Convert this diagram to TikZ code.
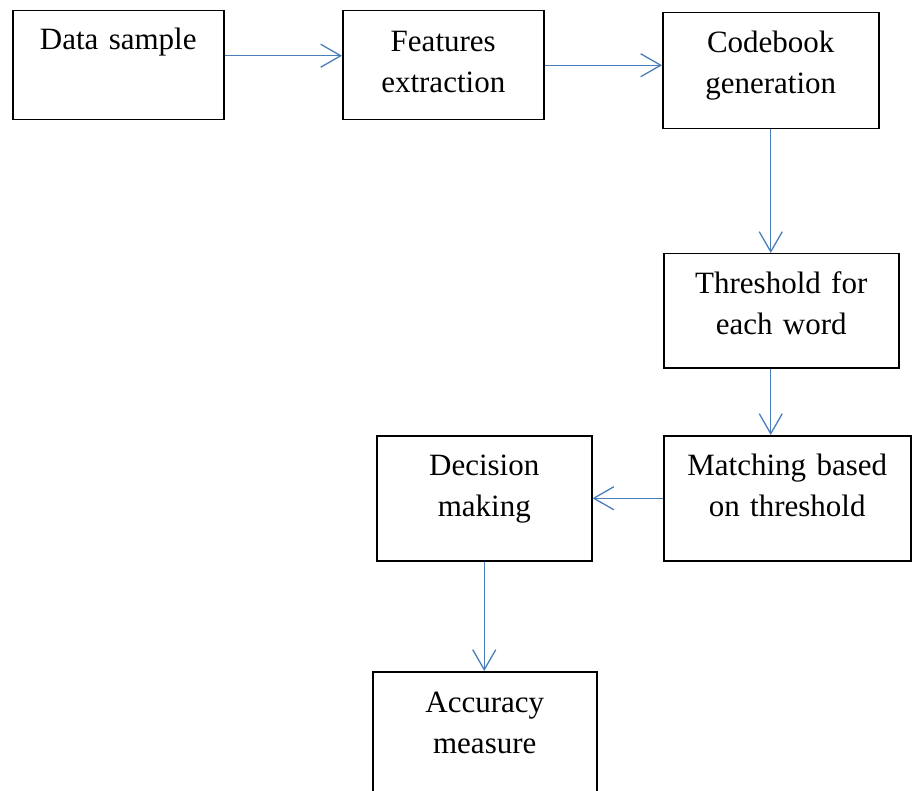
\documentclass[tikz,border=0pt]{standalone}
\usepackage{fontspec}
\setmainfont{Liberation Serif}
\usetikzlibrary{arrows.meta}
\definecolor{officeblue}{RGB}{74,126,187}
\begin{document}
\begin{tikzpicture}[x=1pt,y=-1pt,
  stage/.style={draw, line width=1.5pt, inner sep=0pt, anchor=north west, align=center,
    font=\fontsize{31}{41}\selectfont},
  flow/.style={draw=officeblue, line width=1.3pt, -{Straight Barb[length=20pt,width=23pt]}}]
\useasboundingbox (0,0) rectangle (912,791);
\clip (0,0) rectangle (912,791);

% boxes: text height = first baseline, text depth = rest of the box
\node[stage, text width=211pt, minimum width=211pt, text height=39pt, text depth=70pt] (data) at (12,10) {Data sample};
\node[stage, text width=201pt, minimum width=201pt, text height=41pt, text depth=68pt] (feat) at (342,10) {Features\\extraction};
\node[stage, text width=216pt, minimum width=216pt, text height=40pt, text depth=76pt] (code) at (662,12) {Codebook\\generation};
\node[stage, text width=235pt, minimum width=235pt, text height=40pt, text depth=74pt] (thr) at (663,253) {Threshold for\\each word};
\node[stage, text width=247pt, minimum width=247pt, text height=40pt, text depth=85pt] (match) at (663,435) {Matching based\\on threshold};
\node[stage, text width=215pt, minimum width=215pt, text height=40pt, text depth=85pt] (dec) at (376,435) {Decision\\making};
\node[stage, text width=224pt, minimum width=224pt, text height=41pt, text depth=129pt] (acc) at (372,671) {Accuracy\\measure};

% connectors
\draw[flow] ([yshift=9.5pt]data.east) -- ([yshift=9.5pt]data.east -| feat.west);
\draw[flow] (feat.east) -- (feat.east -| code.west);
\draw[flow] (code.south) -- (code.south |- thr.north);
\draw[flow] (thr.south -| code.south) -- (code.south |- match.north);
\draw[flow] (match.west) -- (dec.east);
\draw[flow] (dec.south) -- (dec.south |- acc.north);
\end{tikzpicture}
\end{document}
